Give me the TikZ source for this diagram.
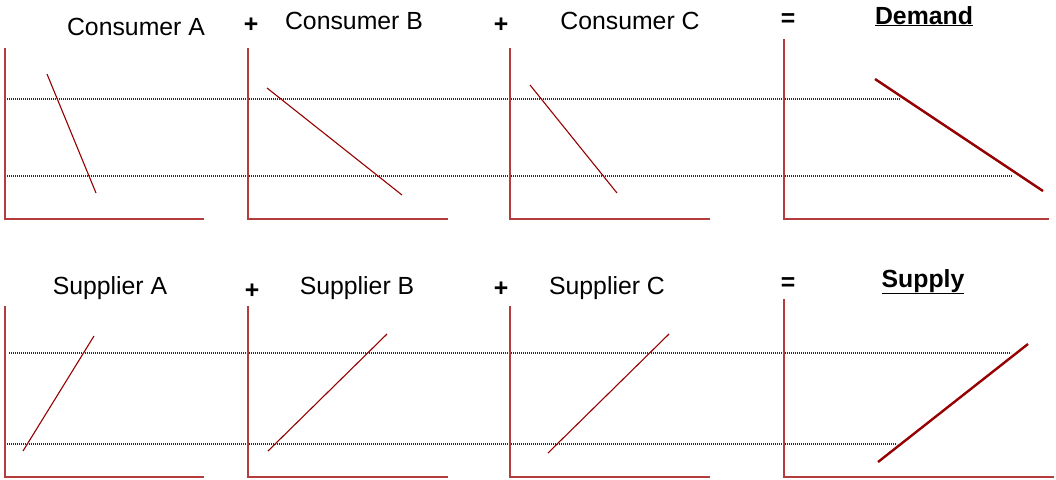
\documentclass[tikz,border=0pt]{standalone}
\usepackage{fontspec}
\setmainfont{Liberation Sans}
\definecolor{curvered}{RGB}{150,0,0}
\definecolor{axisred}{RGB}{180,60,60}
\tikzset{
  axis/.style={draw=axisred, line width=1.3pt},
  curve/.style={draw=curvered, line width=1.1pt},
  total/.style={draw=curvered, line width=2.4pt},
  guide/.style={draw=curvered, line width=1.1pt, dash pattern=on 1.2pt off 0.8pt},
  title/.style={anchor=base, inner sep=0pt, font=\fontsize{24.8}{30}\selectfont},
  heading/.style={title, font=\fontsize{24.8}{30}\selectfont\bfseries},
  sign/.style={inner sep=0pt, font=\fontsize{24.8}{30}\selectfont\bfseries}
}
\begin{document}
\begin{tikzpicture}[x=1pt,y=-1pt]
\useasboundingbox (0,0) rectangle (1056,479);

\draw[guide] (7,99) -- (900,99);
\draw[guide] (7,176) -- (1012,176);
\draw[guide] (9,353) -- (1011,353);
\draw[guide] (7,444) -- (897,444);

\draw[axis] (5,48) -- (5,219) -- (204,219);
\draw[axis] (248,48) -- (248,219) -- (448,219);
\draw[axis] (510,48) -- (510,219) -- (710,219);
\draw[axis] (784,39) -- (784,219) -- (1049,219);
\draw[axis] (5,306) -- (5,477) -- (204,477);
\draw[axis] (248,306) -- (248,477) -- (448,477);
\draw[axis] (510,306) -- (510,477) -- (710,477);
\draw[axis] (784,299) -- (784,477) -- (1054,477);

\coordinate (DA1) at (47,74);   \coordinate (DA2) at (96,193);
\coordinate (DB1) at (267,88);  \coordinate (DB2) at (402,195);
\coordinate (DC1) at (530,85);  \coordinate (DC2) at (617,193);
\coordinate (DT1) at (875,79);  \coordinate (DT2) at (1043,191);
\coordinate (SA1) at (23,451);  \coordinate (SA2) at (94,336);
\coordinate (SB1) at (268,451); \coordinate (SB2) at (387,334);
\coordinate (SC1) at (548,453); \coordinate (SC2) at (669,334);
\coordinate (ST1) at (878,462); \coordinate (ST2) at (1028,344);

\draw[curve] (DA1) -- (DA2);
\draw[curve] (DB1) -- (DB2);
\draw[curve] (DC1) -- (DC2);
\draw[total] (DT1) -- (DT2);
\draw[curve] (SA1) -- (SA2);
\draw[curve] (SB1) -- (SB2);
\draw[curve] (SC1) -- (SC2);
\draw[total] (ST1) -- (ST2);

\node[title] (consA) at (136,35) {Consumer A};
\node[title] (consB) at (354,29) {Consumer B};
\node[title] (consC) at (630,29) {Consumer C};
\node[heading] (demand) at (924,24) {\underline{Demand}};
\node[sign] (plusDA) at (251,25) {+};
\node[sign] (plusDB) at (501,25) {+};
\node[sign] (eqD) at (788,20) {=};

\node[title] (suppA) at (110,294) {Supplier A};
\node[title] (suppB) at (357,294) {Supplier B};
\node[title] (suppC) at (607,294) {Supplier C};
\node[heading] (supply) at (923,287) {\underline{Supply}};
\node[sign] (plusSA) at (252,291) {+};
\node[sign] (plusSB) at (501,289) {+};
\node[sign] (eqS) at (788,284) {=};
\end{tikzpicture}
\end{document}
